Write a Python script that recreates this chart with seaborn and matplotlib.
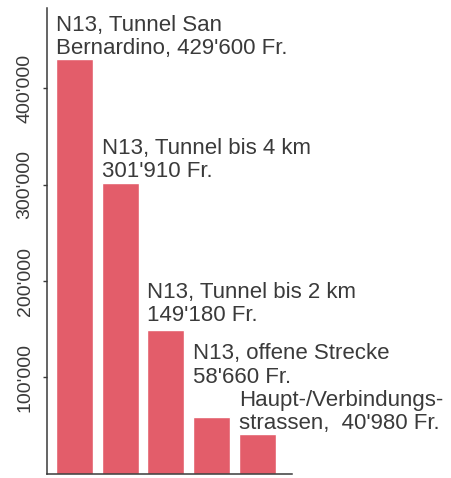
import numpy as np
import pandas as pd
import matplotlib.pyplot as plt
import matplotlib.ticker as mticker
import seaborn as sns

# Baukosten pro Meter, N13 und Hauptstrassen
categories = ["N13, Tunnel San Bernardino", "N13, Tunnel bis 4 km",
              "N13, Tunnel bis 2 km", "N13, offene Strecke",
              "Haupt-/Verbindungsstrassen"]
costs = [429600, 301910, 149180, 58660, 40980]
labels = ["N13, Tunnel San\nBernardino, 429'600 Fr.",
          "N13, Tunnel bis 4 km\n301'910 Fr.",
          "N13, Tunnel bis 2 km\n149'180 Fr.",
          "N13, offene Strecke\n58'660 Fr.",
          "Haupt-/Verbindungs-\nstrassen,  40'980 Fr."]
yticks = [100000, 200000, 300000, 400000]

BAR = "#e35d6a"
INK = "#3a3a3a"

sns.set_theme(style="white")
plt.rcParams["font.family"] = ["Liberation Sans", "DejaVu Sans"]

df = pd.DataFrame({"cat": categories, "cost": costs})

fig = plt.figure(figsize=(4.51, 4.78), dpi=100)
ax = fig.add_axes([0.104, 0.0084, 0.543, 0.975])

width = 0.81
sns.barplot(data=df, x="cat", y="cost", color=BAR, width=width,
            saturation=1, ax=ax)

ax.set_xlim(-0.60, 4.75)
ax.set_ylim(0, 483000)
ax.set_xlabel("")
ax.set_ylabel("")
ax.set_xticks([])
ax.yaxis.set_major_locator(mticker.FixedLocator(yticks))
ax.yaxis.set_major_formatter(
    mticker.FuncFormatter(lambda v, _: f"{int(v):,}".replace(",", "'")))
ax.tick_params(axis="y", left=True, length=3, width=1, color=INK,
               pad=6.5, labelsize=14, labelcolor=INK)
for lbl in ax.get_yticklabels():
    lbl.set_rotation(90)
    lbl.set_va("center")

sns.despine(ax=ax)
for side in ("left", "bottom"):
    ax.spines[side].set_color(INK)
    ax.spines[side].set_linewidth(1.1)

# label offsets above bar tops (points); the 4th sits higher to clear the 5th
offsets = [0.2, 0.2, 3.2, 21.5, 0]
for i, (txt, val) in enumerate(zip(labels, costs)):
    ax.annotate(txt, xy=(i - width / 2, val), xytext=(0, offsets[i]),
                textcoords="offset points", ha="left", va="bottom",
                fontsize=16, color=INK, linespacing=1.13,
                annotation_clip=False)

fig.savefig("out.png", dpi=100)
